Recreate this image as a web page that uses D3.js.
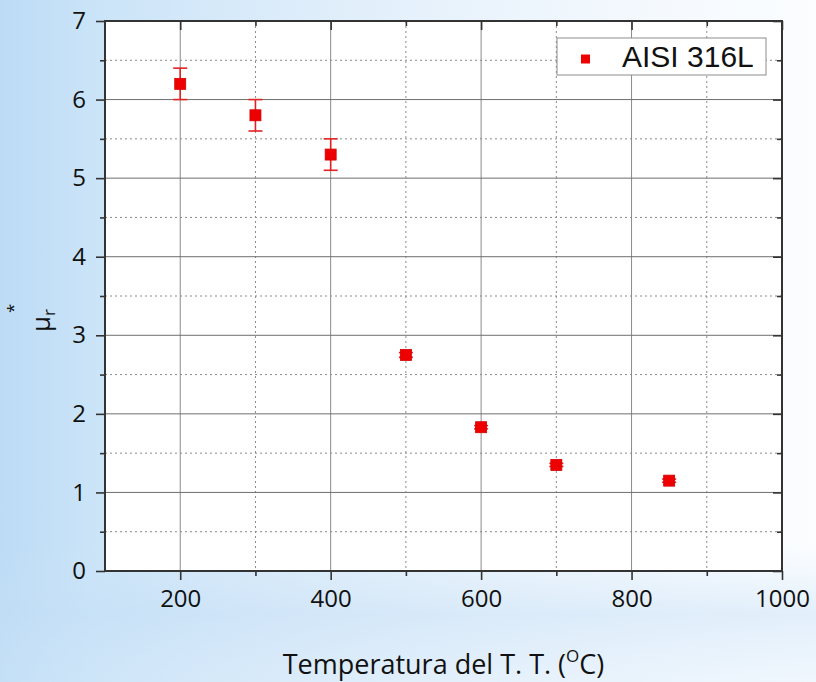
<!DOCTYPE html>
<html>
<head>
<meta charset="utf-8">
<script src="https://cdn.jsdelivr.net/npm/d3@7"></script>
<style>
  html, body { margin: 0; padding: 0; }
  body { width: 816px; height: 682px; overflow: hidden; }
  svg { display: block; }
</style>
</head>
<body>
<svg id="chart" width="816" height="682"></svg>
<script>
// Heat-treatment temperature (°C) vs relative permeability
const temperatures = [200, 300, 400, 500, 600, 700, 850];
const muValues     = [6.2, 5.8, 5.3, 2.75, 1.83, 1.35, 1.15];
const muErrors     = [0.2, 0.2, 0.2, 0.03, 0.02, 0.02, 0.02];
const seriesName   = "AISI 316L";
const xMajorTicks  = [200, 400, 600, 800, 1000];
const xMinorTicks  = [100, 300, 500, 700, 900];
const yMajorTicks  = [0, 1, 2, 3, 4, 5, 6, 7];
const yMinorTicks  = [0.5, 1.5, 2.5, 3.5, 4.5, 5.5, 6.5];

const svg = d3.select("#chart");
const W = 816, H = 682;
const pLeft = 105, pRight = 782, pTop = 21, pBottom = 571;

// soft blue backdrop
const defs = svg.append("defs");
const g1 = defs.append("linearGradient").attr("id", "bgH").attr("x1", "0").attr("x2", "1").attr("y1", "0").attr("y2", "0");
[["0%", "#bcdbf5"], ["12%", "#cbe4f8"], ["35%", "#dcecfa"], ["60%", "#ebf4fc"], ["85%", "#f6fafe"], ["100%", "#fbfdff"]]
  .forEach(([o, c]) => g1.append("stop").attr("offset", o).attr("stop-color", c));
const g2 = defs.append("linearGradient").attr("id", "bgV").attr("x1", "0").attr("x2", "0").attr("y1", "0").attr("y2", "1");
[["0%", "#ffffff", 0], ["80%", "#cfe5f8", 0], ["90%", "#c4def6", 0.45], ["100%", "#d6e9fa", 0.3]]
  .forEach(([o, c, a]) => g2.append("stop").attr("offset", o).attr("stop-color", c).attr("stop-opacity", a));
svg.append("rect").attr("width", W).attr("height", H).attr("fill", "url(#bgH)");
svg.append("rect").attr("width", W).attr("height", H).attr("fill", "url(#bgV)");

const x = d3.scaleLinear().domain([100, 1000]).range([pLeft, pRight]);
const y = d3.scaleLinear().domain([0, 7]).range([pBottom, pTop]);

// plot area
svg.append("rect").attr("x", pLeft).attr("y", pTop).attr("width", pRight - pLeft).attr("height", pBottom - pTop).attr("fill", "#ffffff");

// grid
const grid = svg.append("g");
grid.selectAll(".vmaj").data(xMajorTicks.filter(d => d > 100 && d < 1000)).join("line")
  .attr("x1", d => x(d)).attr("x2", d => x(d)).attr("y1", pTop).attr("y2", pBottom)
  .attr("stroke", "#8a8a8a").attr("stroke-width", 1);
grid.selectAll(".vmin").data(xMinorTicks.filter(d => d > 100)).join("line")
  .attr("x1", d => x(d)).attr("x2", d => x(d)).attr("y1", pTop).attr("y2", pBottom)
  .attr("stroke", "#8a8a8a").attr("stroke-width", 1).attr("stroke-dasharray", "2,3");
grid.selectAll(".hmaj").data(yMajorTicks.filter(d => d > 0 && d < 7)).join("line")
  .attr("x1", pLeft).attr("x2", pRight).attr("y1", d => y(d)).attr("y2", d => y(d))
  .attr("stroke", "#6e6e6e").attr("stroke-width", 1);
grid.selectAll(".hmin").data(yMinorTicks).join("line")
  .attr("x1", pLeft).attr("x2", pRight).attr("y1", d => y(d)).attr("y2", d => y(d))
  .attr("stroke", "#8a8a8a").attr("stroke-width", 1).attr("stroke-dasharray", "2,3");

// axes
const tickFont = "'Open Sans', sans-serif";
function styleAxis(g) {
  g.select(".domain").remove();
  g.selectAll("line").attr("stroke", "#333").attr("stroke-width", 1.6);
  g.selectAll("text").attr("font-family", tickFont).attr("font-size", 24).attr("fill", "#111");
}
svg.append("g").attr("transform", `translate(0,${pBottom})`)
  .call(d3.axisBottom(x).tickValues(xMajorTicks).tickSize(9).tickPadding(10).tickFormat(d3.format("d")))
  .call(styleAxis);
svg.append("g").attr("transform", `translate(0,${pBottom})`)
  .call(d3.axisBottom(x).tickValues(xMinorTicks.filter(d => d > 100)).tickSize(5).tickFormat(""))
  .call(styleAxis);
svg.append("g").attr("transform", `translate(${pLeft},0)`)
  .call(d3.axisLeft(y).tickValues(yMajorTicks).tickSize(9).tickPadding(10).tickFormat(d3.format("d")))
  .call(styleAxis);
svg.append("g").attr("transform", `translate(${pLeft},0)`)
  .call(d3.axisLeft(y).tickValues(yMinorTicks).tickSize(5).tickFormat(""))
  .call(styleAxis);
// mirrored ticks on top and right, pointing inward
svg.append("g").attr("transform", `translate(0,${pTop})`)
  .call(d3.axisTop(x).tickValues(xMajorTicks).tickSize(-9).tickFormat("")).call(styleAxis);
svg.append("g").attr("transform", `translate(0,${pTop})`)
  .call(d3.axisTop(x).tickValues(xMinorTicks.filter(d => d > 100)).tickSize(-5).tickFormat("")).call(styleAxis);
svg.append("g").attr("transform", `translate(${pRight},0)`)
  .call(d3.axisRight(y).tickValues(yMajorTicks).tickSize(-9).tickFormat("")).call(styleAxis);
svg.append("g").attr("transform", `translate(${pRight},0)`)
  .call(d3.axisRight(y).tickValues(yMinorTicks).tickSize(-5).tickFormat("")).call(styleAxis);

// frame
svg.append("rect").attr("x", pLeft).attr("y", pTop).attr("width", pRight - pLeft).attr("height", pBottom - pTop)
  .attr("fill", "none").attr("stroke", "#333").attr("stroke-width", 2);

// data
const pts = temperatures.map((t, i) => ({ t, v: muValues[i], e: muErrors[i] }));
const red = "#ee0000";
const eb = svg.append("g").attr("stroke", "#e32222").attr("stroke-width", 1.6);
eb.selectAll(".stem").data(pts).join("line")
  .attr("x1", d => x(d.t)).attr("x2", d => x(d.t)).attr("y1", d => y(d.v - d.e)).attr("y2", d => y(d.v + d.e));
eb.selectAll(".capT").data(pts).join("line")
  .attr("x1", d => x(d.t) - 7).attr("x2", d => x(d.t) + 7).attr("y1", d => y(d.v + d.e)).attr("y2", d => y(d.v + d.e));
eb.selectAll(".capB").data(pts).join("line")
  .attr("x1", d => x(d.t) - 7).attr("x2", d => x(d.t) + 7).attr("y1", d => y(d.v - d.e)).attr("y2", d => y(d.v - d.e));
const s = 11;
svg.append("g").selectAll("rect").data(pts).join("rect")
  .attr("x", d => x(d.t) - s / 2).attr("y", d => y(d.v) - s / 2).attr("width", s).attr("height", s)
  .attr("fill", red).attr("stroke", "#d40000").attr("stroke-width", 0.8);

// legend
const lg = svg.append("g");
lg.append("rect").attr("x", 557).attr("y", 38).attr("width", 209).attr("height", 37)
  .attr("fill", "#ffffff").attr("stroke", "#8c8c8c").attr("stroke-width", 1);
lg.append("rect").attr("x", 581).attr("y", 54.5).attr("width", 9).attr("height", 9).attr("fill", red);
lg.append("text").attr("x", 622).attr("y", 67).attr("font-family", "'Liberation Sans', Arial, sans-serif")
  .attr("font-size", 30).attr("fill", "#111").text(seriesName);

// axis titles
const xt = svg.append("text").attr("x", (pLeft + pRight) / 2).attr("y", 674).attr("text-anchor", "middle")
  .attr("font-family", tickFont).attr("font-size", 27).attr("fill", "#111");
xt.append("tspan").text("Temperatura del T. T. (");
xt.append("tspan").attr("font-size", 17).attr("dy", -12).text("O");
xt.append("tspan").attr("dy", 12).text("C)");

const yt = svg.append("text").attr("transform", "translate(50,332) rotate(-90)")
  .attr("font-family", tickFont).attr("font-size", 26).attr("fill", "#111");
yt.append("tspan").text("μ");
yt.append("tspan").attr("font-size", 17).attr("dy", 5).text("r");
yt.append("tspan").attr("font-size", 17).attr("dy", -36).attr("dx", -4).text("*");
</script>
</body>
</html>
